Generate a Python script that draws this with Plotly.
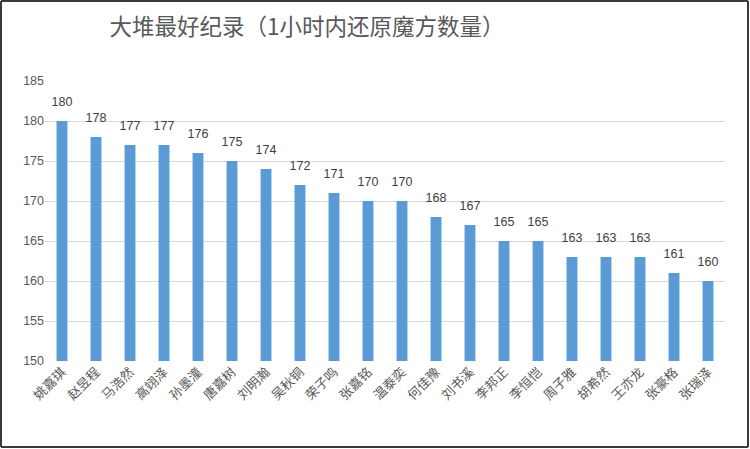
import plotly.graph_objects as go

names = ["姚嘉琪", "赵昱程", "马浩然", "高翊泽", "孙墨潼", "唐嘉树", "刘明瀚", "吴秋铜",
         "荣子鸣", "张嘉铭", "温泰奕", "何佳豫", "刘书溪", "李邦正", "李恒恺", "周子雅",
         "胡希然", "王亦龙", "张豪格", "张瑞泽"]
counts = [180, 178, 177, 177, 176, 175, 174, 172, 171, 170, 170, 168, 167, 165, 165,
          163, 163, 163, 161, 160]
title_text = "大堆最好纪录（1小时内还原魔方数量）"

W, H = 750, 449
ml, mr, mt, mb = 45, 25, 81, 88
pw, ph = W - ml - mr, H - mt - mb

font_cjk = "Noto Sans CJK SC"


def px_x(p):
    return (p - ml) / pw


def px_y(p):
    return (H - p - mb) / ph


border = dict(color="#3a3a3a", width=2)
bx0, bx1, by0, by1 = px_x(1), px_x(748), px_y(1), px_y(447)
shapes = [
    dict(type="line", xref="paper", yref="paper", x0=bx0, x1=bx1, y0=by0, y1=by0, line=border, layer="above"),
    dict(type="line", xref="paper", yref="paper", x0=bx0, x1=bx1, y0=by1, y1=by1, line=border, layer="above"),
    dict(type="line", xref="paper", yref="paper", x0=bx0, x1=bx0, y0=by0, y1=by1, line=border, layer="above"),
    dict(type="line", xref="paper", yref="paper", x0=bx1, x1=bx1, y0=by0, y1=by1, line=border, layer="above"),
]

fig = go.Figure()
fig.add_trace(go.Bar(
    x=names, y=counts,
    marker=dict(color="#5b9bd5", line=dict(width=0)),
    hoverinfo="none",
))
fig.add_trace(go.Scatter(
    x=names, y=counts, mode="markers+text",
    marker=dict(size=18, opacity=0),
    text=[str(v) for v in counts], textposition="top center",
    textfont=dict(size=12.5, color="#404040", family="Liberation Sans, Arial"),
    cliponaxis=False, hoverinfo="none",
))

fig.update_layout(
    width=W, height=H,
    margin=dict(l=ml, r=mr, t=mt, b=mb, autoexpand=False),
    paper_bgcolor="white", plot_bgcolor="white",
    bargap=0.68,
    showlegend=False,
    title=dict(text=title_text, x=307 / W, xanchor="center", y=1 - 27 / H, yanchor="middle",
               font=dict(size=22.5, color="#595959", family=font_cjk)),
    xaxis=dict(tickangle=-45, tickfont=dict(size=13, color="#595959", family=font_cjk),
               range=[-0.5, len(names) - 0.5],
               showgrid=False, showline=False, ticks="", automargin=False),
    yaxis=dict(range=[150, 185], dtick=5, showgrid=True, gridcolor="#d9d9d9", gridwidth=1,
               zeroline=False, showline=False, ticks="", automargin=False,
               tickfont=dict(size=12.5, color="#595959", family="Liberation Sans, Arial")),
    shapes=shapes,
)

fig.write_html("out.html", config={"displayModeBar": False},
               post_script="document.body.style.margin='0';document.body.style.padding='0';")
